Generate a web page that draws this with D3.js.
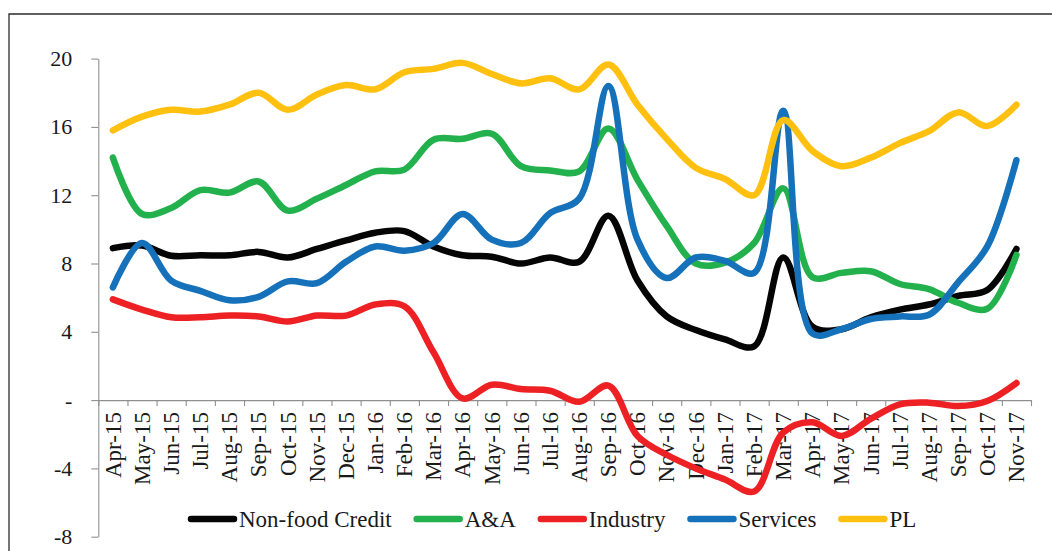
<!DOCTYPE html>
<html>
<head>
<meta charset="utf-8">
<script src="https://cdn.jsdelivr.net/npm/d3@7"></script>
<style>
  body { margin: 0; background: #fff; }
  #graf { width: 1052px; height: 551px; }
</style>
</head>
<body>
<div id="graf"></div>
<script>
// I. Datos
meses = ['Apr-15','May-15','Jun-15','Jul-15','Aug-15','Sep-15','Oct-15','Nov-15','Dec-15',
         'Jan-16','Feb-16','Mar-16','Apr-16','May-16','Jun-16','Jul-16','Aug-16','Sep-16','Oct-16','Nov-16','Dec-16',
         'Jan-17','Feb-17','Mar-17','Apr-17','May-17','Jun-17','Jul-17','Aug-17','Sep-17','Oct-17','Nov-17']

nonFood  = [8.9, 9.05, 8.45, 8.48, 8.48, 8.68, 8.35, 8.85, 9.35, 9.8, 9.9, 9.0, 8.48, 8.4, 8.0, 8.35,
            8.1, 10.8, 7.0, 4.9, 4.1, 3.55, 3.15, 8.35, 4.3, 4.15, 4.85, 5.3, 5.6, 6.1, 6.45, 8.85]
aa       = [14.2, 10.9, 11.25, 12.3, 12.15, 12.8, 11.1, 11.8, 12.6, 13.4, 13.5, 15.25, 15.3, 15.6, 13.7, 13.45,
            13.4, 15.9, 12.9, 10.2, 8.0, 8.05, 9.2, 12.4, 7.2, 7.45, 7.55, 6.8, 6.5, 5.7, 5.35, 8.5]
industry = [5.9, 5.3, 4.85, 4.85, 4.95, 4.9, 4.6, 4.95, 4.95, 5.6, 5.5, 2.8, 0.1, 0.9, 0.65, 0.55,
            -0.1, 0.85, -2.1, -3.2, -4.0, -4.65, -5.35, -1.9, -1.3, -2.1, -1.1, -0.25, -0.15, -0.35, -0.05, 1.0]
services = [6.6, 9.2, 7.0, 6.4, 5.85, 6.05, 6.95, 6.85, 8.1, 9.0, 8.75, 9.2, 10.9, 9.4, 9.2, 10.95,
            11.8, 18.4, 9.4, 7.15, 8.35, 8.15, 7.45, 16.95, 3.9, 4.15, 4.75, 4.9, 5.0, 6.9, 9.0, 14.05]
pl       = [15.8, 16.6, 17.0, 16.9, 17.3, 18.0, 17.0, 17.9, 18.45, 18.2, 19.2, 19.4, 19.75, 19.1, 18.55, 18.85,
            18.2, 19.65, 17.3, 15.3, 13.6, 12.95, 12.0, 16.4, 14.6, 13.7, 14.2, 15.05, 15.75, 16.85, 16.05, 17.3]

nombres = ['Non-food Credit', 'A&A', 'Industry', 'Services', 'PL']
colores = ['#050505', '#22B14C', '#ED2024', '#1571BA', '#FFC010']
yTicks  = [-8, -4, 0, 4, 8, 12, 16, 20]

series = [nonFood, aa, industry, services, pl].map((vals, i) => ({
  nombre: nombres[i], color: colores[i], valores: vals
}))

// II. Configuración
ancho_total = 1052
alto_total = 551
margins = { top: 58.6, left: 98.3, right: 21, bottom: 14.3 }
fuente = "'Liberation Serif', 'Times New Roman', serif"

svg = d3.select('#graf').append('svg')
        .attr('width', ancho_total)
        .attr('height', alto_total)

// marco exterior (solo arriba e izquierda)
svg.append('path')
   .attr('d', `M9,${alto_total} V14 H${ancho_total}`)
   .attr('fill', 'none')
   .attr('stroke', '#2b2b2b')
   .attr('stroke-width', 1.3)

x = d3.scaleBand()
      .domain(meses)
      .range([margins.left, ancho_total - margins.right])

y = d3.scaleLinear()
      .domain([-8, 20])
      .range([alto_total - margins.bottom, margins.top])

// III. Ejes
ejeY = svg.append('g')
   .attr('transform', `translate(${ margins.left },0)`)
   .call(d3.axisLeft(y).tickValues(yTicks).tickSize(7).tickSizeOuter(0).tickPadding(19)
           .tickFormat(d => d === 0 ? '-' : d))
ejeY.attr('font-family', fuente)
ejeY.selectAll('path, line').attr('stroke', '#8f8f8f').attr('stroke-width', 1.1)
ejeY.selectAll('text')
    .style('font-family', fuente)
    .style('font-size', '22px')
    .attr('fill', '#1a1a1a')

// marcas del eje X en los bordes de cada mes
bordes = d3.scaleLinear().domain([0, meses.length]).range(x.range())
ejeMarcas = svg.append('g')
   .attr('transform', `translate(0,${ y(0) })`)
   .call(d3.axisBottom(bordes).ticks(meses.length).tickSize(6).tickSizeOuter(0).tickFormat(''))
ejeMarcas.selectAll('path, line').attr('stroke', '#8f8f8f').attr('stroke-width', 1.1)

ejeX = svg.append('g')
   .attr('transform', `translate(0,${ y(0) })`)
   .call(d3.axisBottom(x).tickSize(0).tickSizeOuter(0))
ejeX.attr('font-family', fuente)
ejeX.select('.domain').remove()
ejeX.selectAll('text')
    .style('font-family', fuente)
    .style('font-size', '23px')
    .attr('fill', '#1a1a1a')
    .attr('transform', 'rotate(-90)')
    .attr('x', -12)
    .attr('y', 0)
    .attr('dy', '0.34em')
    .style('text-anchor', 'end')

// IV. Líneas
linea = d3.line()
          .x((d, i) => x(meses[i]) + x.bandwidth() / 2)
          .y(d => y(d))
          .curve(d3.curveCatmullRom.alpha(0.5))

svg.append('g').selectAll('path.serie')
   .data(series)
   .enter()
   .append('path')
   .attr('class', 'serie')
   .attr('d', d => linea(d.valores))
   .attr('fill', 'none')
   .attr('stroke', d => d.color)
   .attr('stroke-width', 6.5)
   .attr('stroke-linecap', 'round')
   .attr('stroke-linejoin', 'round')

// V. Leyenda
leyenda = svg.append('g').attr('transform', 'translate(188,519)')
posX = 0
series.forEach(s => {
  item = leyenda.append('g').attr('transform', `translate(${ posX },0)`)
  item.append('line')
      .attr('x1', 3).attr('x2', 46)
      .attr('stroke', s.color)
      .attr('stroke-width', 6.5)
      .attr('stroke-linecap', 'round')
  t = item.append('text')
      .attr('x', 51)
      .attr('dy', '0.34em')
      .style('font-family', fuente)
      .style('font-size', '23px')
      .attr('fill', '#1a1a1a')
      .text(s.nombre)
  posX += 51 + t.node().getComputedTextLength() + 22
})
</script>
</body>
</html>
